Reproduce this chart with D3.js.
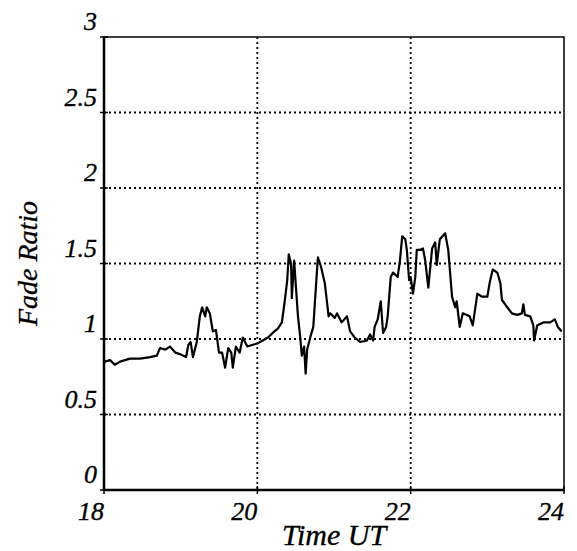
<!DOCTYPE html>
<html>
<head>
<meta charset="utf-8">
<script src="https://cdn.jsdelivr.net/npm/d3@7"></script>
<style>
  body { margin: 0; background: #fff; }
  text { font-family: "Liberation Serif", "Times New Roman", serif; font-style: italic; fill: #000; stroke: #000; stroke-width: 0.35px; }
</style>
</head>
<body>
<script>
const width = 577;
const height = 551;

// Time (UT hours) and fade ratio.
const timeUT = [18.00, 18.01, 18.08, 18.14, 18.21, 18.34, 18.47, 18.60, 18.69, 18.73,
  18.80, 18.86, 18.93, 18.99, 19.07, 19.10, 19.13, 19.16, 19.21, 19.25,
  19.28, 19.32, 19.34, 19.38, 19.42, 19.46, 19.50, 19.54, 19.58, 19.62,
  19.66, 19.68, 19.72, 19.77, 19.81, 19.87, 19.93, 20.00, 20.07, 20.14,
  20.20, 20.27, 20.32, 20.36, 20.39, 20.41, 20.44, 20.45, 20.48, 20.50,
  20.53, 20.56, 20.58, 20.61, 20.63, 20.65, 20.69, 20.73, 20.77, 20.79,
  20.83, 20.88, 20.93, 20.95, 21.01, 21.04, 21.10, 21.17, 21.21, 21.27,
  21.34, 21.43, 21.47, 21.51, 21.53, 21.57, 21.61, 21.64, 21.68, 21.70,
  21.74, 21.77, 21.83, 21.86, 21.89, 21.93, 21.95, 21.98, 22.00, 22.03,
  22.06, 22.08, 22.12, 22.16, 22.19, 22.23, 22.28, 22.32, 22.34, 22.38,
  22.45, 22.49, 22.54, 22.58, 22.60, 22.64, 22.68, 22.77, 22.81, 22.87,
  22.93, 23.00, 23.03, 23.07, 23.13, 23.17, 23.19, 23.26, 23.32, 23.39,
  23.45, 23.47, 23.49, 23.56, 23.60, 23.61, 23.65, 23.73, 23.82, 23.88,
  23.92, 23.97];
const fadeRatio = [0.85, 0.85, 0.86, 0.83, 0.85, 0.87, 0.87, 0.88, 0.89, 0.94,
  0.93, 0.95, 0.91, 0.90, 0.88, 0.96, 0.98, 0.88, 0.98, 1.15,
  1.21, 1.15, 1.21, 1.17, 1.05, 1.06, 0.91, 0.91, 0.81, 0.94,
  0.91, 0.81, 0.95, 0.91, 1.01, 0.95, 0.96, 0.97, 0.99, 1.01,
  1.04, 1.07, 1.11, 1.26, 1.39, 1.56, 1.50, 1.27, 1.52, 1.37,
  1.15, 1.01, 0.89, 0.95, 0.77, 0.93, 1.01, 1.08, 1.39, 1.54,
  1.48, 1.37, 1.15, 1.17, 1.14, 1.17, 1.11, 1.15, 1.05, 1.01,
  0.98, 0.99, 1.03, 0.99, 1.08, 1.13, 1.25, 1.04, 1.08, 1.15,
  1.41, 1.44, 1.41, 1.52, 1.68, 1.66, 1.59, 1.39, 1.41, 1.30,
  1.41, 1.59, 1.59, 1.60, 1.52, 1.34, 1.60, 1.64, 1.49, 1.66,
  1.70, 1.59, 1.28, 1.21, 1.25, 1.08, 1.17, 1.15, 1.09, 1.30,
  1.28, 1.28, 1.37, 1.46, 1.44, 1.37, 1.26, 1.21, 1.17, 1.16,
  1.17, 1.23, 1.16, 1.15, 1.09, 0.99, 1.09, 1.11, 1.11, 1.13,
  1.08, 1.05];

const xTicks = [18, 20, 22, 24];
const yTicks = [0, 0.5, 1, 1.5, 2, 2.5, 3];
const yTickLabels = ["0", "0.5", "1", "1.5", "2", "2.5", "3"];

const margin = { left: 104, top: 37, right: 13, bottom: 61 };
const plotW = width - margin.left - margin.right;
const plotH = height - margin.top - margin.bottom;

const svg = d3.select("body").append("svg")
  .attr("width", width)
  .attr("height", height);

const g = svg.append("g")
  .attr("transform", `translate(${margin.left},${margin.top})`);

const x = d3.scaleLinear().domain([18, 24]).range([0, plotW]);
const y = d3.scaleLinear().domain([0, 3]).range([plotH, 0]);

// Dotted grid lines.
g.selectAll(".hgrid")
  .data(yTicks.filter(d => d > 0 && d < 3))
  .enter().append("line")
  .attr("x1", 0).attr("x2", plotW)
  .attr("y1", d => y(d)).attr("y2", d => y(d))
  .attr("stroke", "#000")
  .attr("stroke-width", 1.8)
  .attr("stroke-dasharray", "2,3");

g.selectAll(".vgrid")
  .data(xTicks.filter(d => d > 18 && d < 24))
  .enter().append("line")
  .attr("x1", d => x(d)).attr("x2", d => x(d))
  .attr("y1", 0).attr("y2", plotH)
  .attr("stroke", "#000")
  .attr("stroke-width", 1.8)
  .attr("stroke-dasharray", "2,3");

// Data line.
const line = d3.line()
  .x((d, i) => x(timeUT[i]))
  .y(d => y(d));

g.append("path")
  .datum(fadeRatio)
  .attr("fill", "none")
  .attr("stroke", "#000")
  .attr("stroke-width", 2.2)
  .attr("stroke-linejoin", "round")
  .attr("d", line);

// Frame: heavier on the left and bottom.
g.append("rect")
  .attr("width", plotW).attr("height", plotH)
  .attr("fill", "none")
  .attr("stroke", "#000")
  .attr("stroke-width", 1.5);

g.append("line")
  .attr("x1", 0).attr("x2", 0).attr("y1", 0).attr("y2", plotH)
  .attr("stroke", "#000").attr("stroke-width", 2.5);
g.append("line")
  .attr("x1", 0).attr("x2", plotW).attr("y1", plotH).attr("y2", plotH)
  .attr("stroke", "#000").attr("stroke-width", 2.5);

// Small tick marks on the axes.
g.selectAll(".ytick")
  .data(yTicks)
  .enter().append("line")
  .attr("x1", -4).attr("x2", 4)
  .attr("y1", d => y(d)).attr("y2", d => y(d))
  .attr("stroke", "#000").attr("stroke-width", 1.5);

g.selectAll(".xtick")
  .data(xTicks)
  .enter().append("line")
  .attr("x1", d => x(d)).attr("x2", d => x(d))
  .attr("y1", plotH - 4).attr("y2", plotH + 4)
  .attr("stroke", "#000").attr("stroke-width", 1.5);

// Tick labels sit above-left of each tick.
g.selectAll(".ylabel")
  .data(yTicks)
  .enter().append("text")
  .attr("x", -7)
  .attr("y", d => y(d) - 7)
  .attr("text-anchor", "end")
  .style("font-size", "26px")
  .text((d, i) => yTickLabels[i]);

g.selectAll(".xlabel")
  .data(xTicks)
  .enter().append("text")
  .attr("x", d => x(d))
  .attr("y", plotH + 30)
  .attr("text-anchor", "end")
  .style("font-size", "26px")
  .text(d => d);

// Axis titles, centred on the plot area.
svg.append("text")
  .attr("x", margin.left + plotW / 2)
  .attr("y", 545)
  .attr("text-anchor", "middle")
  .style("font-size", "30px")
  .text("Time UT");

svg.append("text")
  .attr("transform", `translate(37,${margin.top + plotH / 2}) rotate(-90)`)
  .attr("text-anchor", "middle")
  .style("font-size", "28px")
  .text("Fade Ratio");
</script>
</body>
</html>
